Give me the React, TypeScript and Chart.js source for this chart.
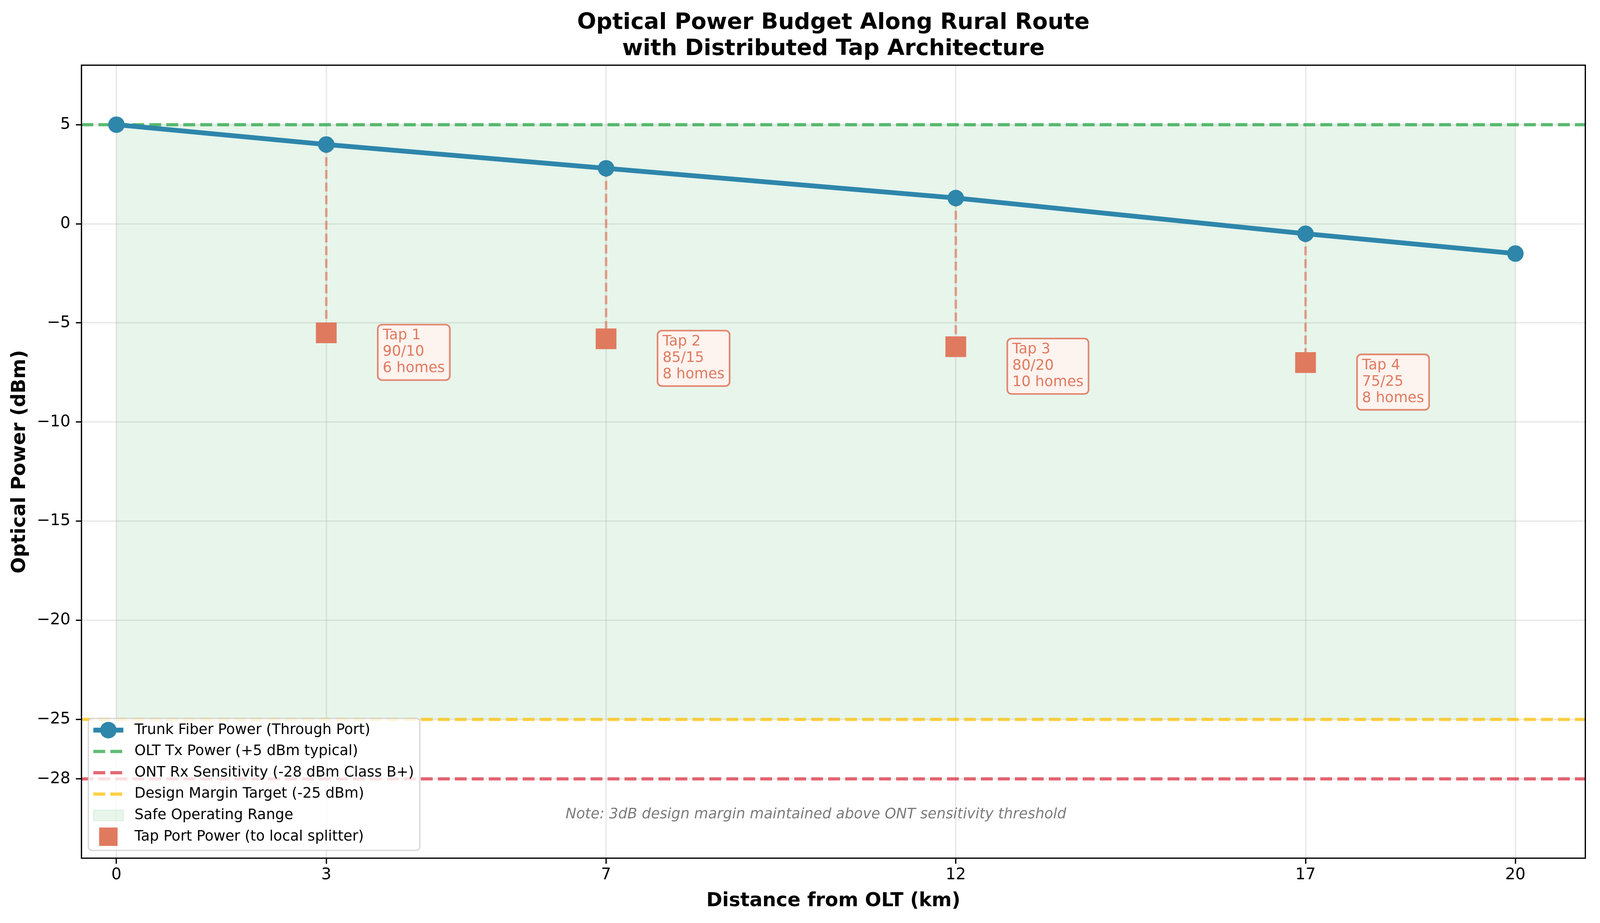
import React, { useEffect, useRef } from "react";
import { Chart, registerables } from "chart.js";

Chart.register(...registerables);

// reference figure size (px), 300 dpi -> 1pt = 300/72 px
const W = 4164;
const H = 2364;
const PT = 300 / 72;
const FONT = "'DejaVu Sans', 'Liberation Sans', sans-serif";

// data
const distances = [0, 3, 7, 12, 17, 20];
const trunkPower = [5, 4.0, 2.8, 1.3, -0.5, -1.5];
const tapDistances = [3, 7, 12, 17];
const tapPower = [-5.5, -5.8, -6.2, -7.0];
const tapNames = ["Tap 1", "Tap 2", "Tap 3", "Tap 4"];
const tapRatios = ["90/10", "85/15", "80/20", "75/25"];
const tapHomes = [6, 8, 10, 8];
const xTicks = [0, 3, 7, 12, 17, 20];
const yTicks = [5, 0, -5, -10, -15, -20, -25, -28];
const oltTx = 5;
const ontSensitivity = -28;
const designTarget = -25;
const safeFrom = 0;
const safeTo = 20;
const safeTop = 5;
const safeBottom = -25;
const X_MIN = -0.5;
const X_MAX = 21;
const Y_MIN = -32;
const Y_MAX = 8;

const TRUNK = "#2E86AB";
const TAP = "#E07A5F";
const GREEN = "rgba(40,167,69,0.75)";
const RED = "rgba(220,53,69,0.75)";
const YELLOW = "rgba(255,193,7,0.75)";
const SAFE_FILL = "rgba(40,167,69,0.11)";

const legendItems = [
  { label: "Trunk Fiber Power (Through Port)", kind: "trunk" },
  { label: "OLT Tx Power (+5 dBm typical)", kind: "dash", color: GREEN },
  { label: "ONT Rx Sensitivity (-28 dBm Class B+)", kind: "dash", color: RED },
  { label: "Design Margin Target (-25 dBm)", kind: "dash", color: YELLOW },
  { label: "Safe Operating Range", kind: "patch" },
  { label: "Tap Port Power (to local splitter)", kind: "square" },
];

const fmtTick = (v: number) => (v < 0 ? "\u2212" + Math.abs(v) : String(v));

export default function App() {
  const canvasRef = useRef<HTMLCanvasElement>(null);

  useEffect(() => {
    if (!canvasRef.current) return;
    const box = canvasRef.current.parentElement as HTMLElement;
    // map reference pixels onto the page's css pixels
    const kx = box.clientWidth / W;
    const ky = box.clientHeight / H;
    const s = (v: number) => v * kx; // sizes, fonts, horizontal
    const sy = (v: number) => v * ky; // vertical positions

    const hline = (y: number, color: string, label: string) => ({
      label,
      type: "line",
      data: [
        { x: X_MIN, y },
        { x: X_MAX, y },
      ],
      borderColor: color,
      borderWidth: s(2 * PT),
      borderDash: [s(7.4 * PT), s(3.2 * PT)],
      pointRadius: 0,
      fill: false,
      order: 3,
    });

    const trunkData = distances.map((d, i) => ({ x: d, y: trunkPower[i] }));
    const tapData = tapDistances.map((d, i) => ({ x: d, y: tapPower[i] }));

    // dashed drops from trunk to each tap port
    const connectors = tapDistances.map((d, i) => ({
      type: "line",
      data: [
        { x: d, y: trunkPower[distances.indexOf(d)] },
        { x: d, y: tapPower[i] },
      ],
      borderColor: "rgba(224,122,95,0.7)",
      borderWidth: s(1.5 * PT),
      borderDash: [s(5.55 * PT), s(2.4 * PT)],
      pointRadius: 0,
      fill: false,
      order: 2,
    }));

    const decorPlugin = {
      id: "decor",
      afterDatasetsDraw(chart: any) {
        const { ctx, chartArea: a, scales } = chart;
        const xs = scales.x;
        const ys = scales.y;
        ctx.save();

        // spines
        ctx.strokeStyle = "#000";
        ctx.lineWidth = s(0.8 * PT);
        ctx.strokeRect(a.left, a.top, a.right - a.left, a.bottom - a.top);

        // tap annotation boxes
        const fs = s(9 * PT);
        ctx.font = `${fs}px ${FONT}`;
        tapDistances.forEach((d, i) => {
          const px = xs.getPixelForValue(d);
          const py = ys.getPixelForValue(tapPower[i]);
          const lines = [tapNames[i], tapRatios[i], `${tapHomes[i]} homes`];
          const tw = Math.max(...lines.map((l) => ctx.measureText(l).width));
          const bx = px + s(134);
          const by = py - sy(21);
          ctx.beginPath();
          ctx.roundRect(bx, by, tw + s(26), sy(142), s(11));
          ctx.fillStyle = "#FDF3EF";
          ctx.fill();
          ctx.lineWidth = s(4.2);
          ctx.strokeStyle = "rgba(224,122,95,0.9)";
          ctx.stroke();
          ctx.fillStyle = TAP;
          ctx.textAlign = "left";
          ctx.textBaseline = "alphabetic";
          lines.forEach((l, j) => ctx.fillText(l, bx + s(13), py + sy(17 + j * 42)));
        });

        // note
        ctx.font = `italic ${fs}px ${FONT}`;
        ctx.fillStyle = "rgba(90,90,90,0.8)";
        ctx.textAlign = "center";
        ctx.textBaseline = "alphabetic";
        ctx.fillText(
          "Note: 3dB design margin maintained above ONT sensitivity threshold",
          xs.getPixelForValue(10),
          ys.getPixelForValue(-30)
        );

        // legend (lower left, inside the axes)
        ctx.font = `${fs}px ${FONT}`;
        const lx = s(230);
        const ly = sy(1840);
        const textX = s(350);
        const maxW = Math.max(...legendItems.map((it) => ctx.measureText(it.label).width));
        ctx.beginPath();
        ctx.roundRect(lx, ly, textX + maxW + s(15) - lx, sy(338), s(9));
        ctx.fillStyle = "rgba(255,255,255,0.8)";
        ctx.fill();
        ctx.lineWidth = s(3.3);
        ctx.strokeStyle = "rgba(204,204,204,0.8)";
        ctx.stroke();

        const hx0 = s(243);
        const hx1 = s(321);
        const hc = (hx0 + hx1) / 2;
        legendItems.forEach((it, i) => {
          const cy = sy(1870 + i * 54.6);
          if (it.kind === "trunk") {
            ctx.strokeStyle = TRUNK;
            ctx.lineWidth = s(3 * PT);
            ctx.setLineDash([]);
            ctx.beginPath();
            ctx.moveTo(hx0, cy);
            ctx.lineTo(hx1, cy);
            ctx.stroke();
            ctx.fillStyle = TRUNK;
            ctx.beginPath();
            ctx.arc(hc, cy, s(21.5), 0, Math.PI * 2);
            ctx.fill();
          } else if (it.kind === "dash") {
            ctx.strokeStyle = it.color as string;
            ctx.lineWidth = s(2 * PT);
            ctx.setLineDash([s(7.4 * PT), s(3.2 * PT)]);
            ctx.beginPath();
            ctx.moveTo(hx0, cy);
            ctx.lineTo(hx1, cy);
            ctx.stroke();
            ctx.setLineDash([]);
          } else if (it.kind === "patch") {
            ctx.fillStyle = SAFE_FILL;
            ctx.fillRect(hx0, cy - s(14), hx1 - hx0, s(28));
            ctx.lineWidth = s(2);
            ctx.strokeStyle = "rgba(40,167,69,0.12)";
            ctx.strokeRect(hx0, cy - s(14), hx1 - hx0, s(28));
          } else {
            ctx.fillStyle = TAP;
            ctx.fillRect(hc - s(24), cy - s(24), s(48), s(48));
          }
          ctx.fillStyle = "#000";
          ctx.textAlign = "left";
          ctx.textBaseline = "middle";
          ctx.fillText(it.label, textX, cy);
        });

        ctx.restore();
      },
      afterDraw(chart: any) {
        const { ctx, chartArea: a } = chart;
        ctx.save();
        ctx.font = `bold ${s(14 * PT)}px ${FONT}`;
        ctx.fillStyle = "#000";
        ctx.textAlign = "center";
        ctx.textBaseline = "alphabetic";
        const cx = (a.left + a.right) / 2;
        ctx.fillText("Optical Power Budget Along Rural Route", cx, sy(74));
        ctx.fillText("with Distributed Tap Architecture", cx, sy(141));
        ctx.restore();
      },
    };

    const gridOpts = {
      color: "rgba(176,176,176,0.3)",
      lineWidth: s(0.8 * PT),
      tickColor: "#000",
      tickLength: s(3.5 * PT),
      tickWidth: s(0.8 * PT),
    };

    const chart = new Chart(canvasRef.current, {
      type: "line",
      data: {
        datasets: [
          {
            label: "Trunk Fiber Power (Through Port)",
            data: trunkData,
            borderColor: TRUNK,
            backgroundColor: TRUNK,
            borderWidth: s(3 * PT),
            pointRadius: s(21.5),
            pointBackgroundColor: TRUNK,
            pointBorderWidth: 0,
            fill: false,
            order: 0,
          },
          {
            label: "Tap Port Power (to local splitter)",
            data: tapData,
            showLine: false,
            pointStyle: "rect",
            pointRadius: s(54 / Math.SQRT2),
            pointBackgroundColor: TAP,
            pointBorderWidth: 0,
            order: 1,
          },
          ...connectors,
          hline(oltTx, GREEN, "OLT Tx Power (+5 dBm typical)"),
          hline(ontSensitivity, RED, "ONT Rx Sensitivity (-28 dBm Class B+)"),
          hline(designTarget, YELLOW, "Design Margin Target (-25 dBm)"),
          {
            label: "Safe Operating Range",
            data: [
              { x: safeFrom, y: safeTop },
              { x: safeTo, y: safeTop },
            ],
            borderWidth: 0,
            pointRadius: 0,
            backgroundColor: SAFE_FILL,
            fill: { value: safeBottom },
            order: 4,
          },
        ] as any,
      },
      options: {
        animation: false,
        responsive: true,
        maintainAspectRatio: false,
        events: [],
        layout: { padding: { top: sy(167), right: s(30), left: 0, bottom: 0 } },
        plugins: {
          legend: { display: false },
          tooltip: { enabled: false },
          title: { display: false },
        },
        scales: {
          x: {
            type: "linear",
            min: X_MIN,
            max: X_MAX,
            afterBuildTicks: (axis: any) => {
              axis.ticks = xTicks.map((v) => ({ value: v }));
            },
            afterFit: (axis: any) => {
              axis.height = sy(H - 2198);
            },
            ticks: {
              autoSkip: false,
              maxRotation: 0,
              padding: sy(4),
              color: "#000",
              font: { family: FONT, size: s(10 * PT) },
              callback: (v: any) => fmtTick(Number(v)),
            },
            grid: gridOpts,
            border: { display: false },
            title: {
              display: true,
              text: "Distance from OLT (km)",
              color: "#000",
              font: { family: FONT, size: s(12 * PT), weight: "bold" },
              padding: { top: 0, bottom: sy(26) },
            },
          },
          y: {
            type: "linear",
            min: Y_MIN,
            max: Y_MAX,
            afterBuildTicks: (axis: any) => {
              axis.ticks = yTicks.map((v) => ({ value: v }));
            },
            afterFit: (axis: any) => {
              axis.width = s(212);
            },
            ticks: {
              autoSkip: false,
              padding: s(14),
              color: "#000",
              font: { family: FONT, size: s(10 * PT) },
              callback: (v: any) => fmtTick(Number(v)),
            },
            grid: gridOpts,
            border: { display: false },
            title: {
              display: true,
              text: "Optical Power (dBm)",
              color: "#000",
              font: { family: FONT, size: s(12 * PT), weight: "bold" },
              padding: { top: s(22), bottom: 0 },
            },
          },
        },
      },
      plugins: [decorPlugin],
    } as any);

    return () => chart.destroy();
  }, []);

  return (
    <div
      style={{
        position: "fixed",
        left: 0,
        top: 0,
        width: "100vw",
        height: "100vh",
        background: "#fff",
        overflow: "hidden",
      }}
    >
      <canvas ref={canvasRef} />
    </div>
  );
}
